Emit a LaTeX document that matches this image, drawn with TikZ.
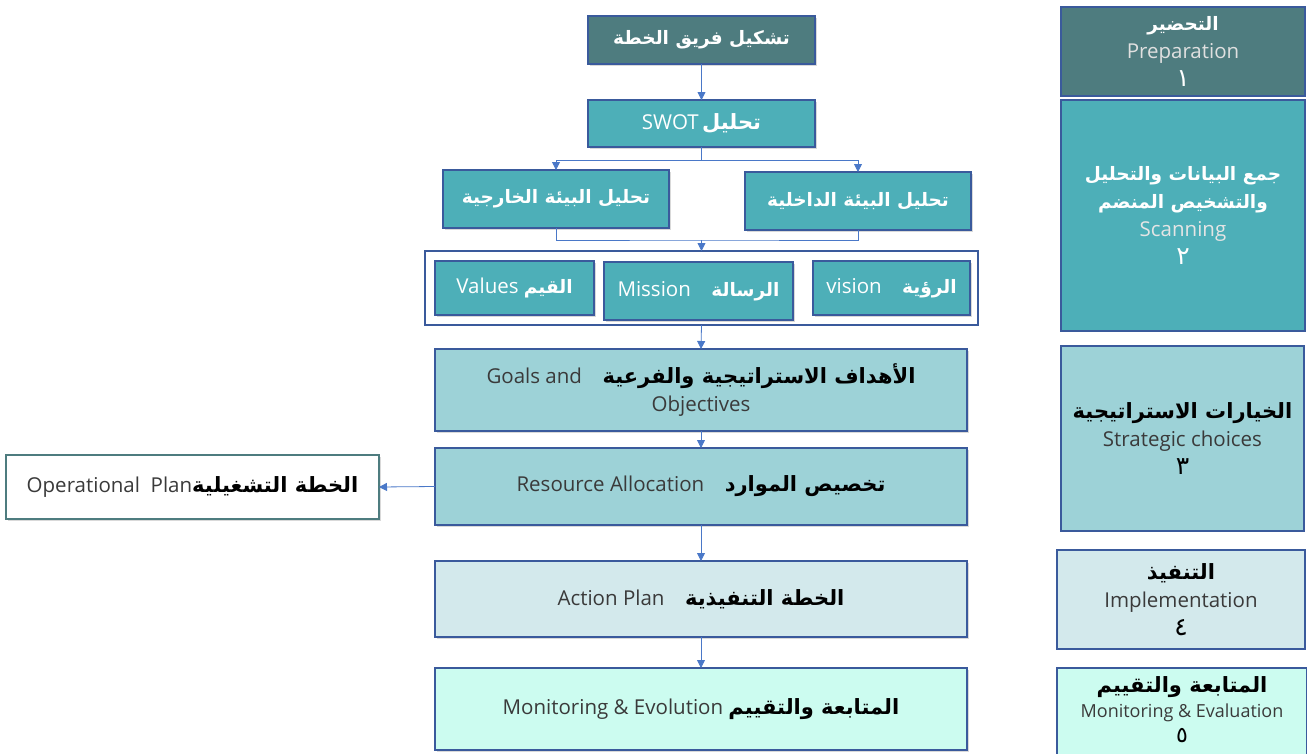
\documentclass[tikz,border=0pt]{standalone}
\usepackage{fontspec}
\setmainfont{Open Sans}
\newfontfamily\arabicfont[Script=Arabic]{DejaVu Sans}
\TeXXeTstate=1
\usetikzlibrary{arrows.meta,shadows}
\newcommand{\artxt}[1]{{\arabicfont\bfseries\fontsize{18.5}{28}\selectfont\beginR #1\endR}}
\newcommand{\arbig}[1]{{\arabicfont\bfseries\fontsize{21}{28}\selectfont\beginR #1\endR}}
\newcommand{\ardigit}[1]{{\arabicfont\fontsize{25}{28}\selectfont #1}}
\definecolor{cDark}{HTML}{4E7C7F}
\definecolor{cTeal}{HTML}{4DAFB8}
\definecolor{cLight}{HTML}{9DD2D7}
\definecolor{cPale}{HTML}{D3E9EC}
\definecolor{cMint}{HTML}{CCFCF0}
\definecolor{cBorder}{HTML}{3A5A9C}
\definecolor{cArrow}{HTML}{4A78C8}
\definecolor{cGrayTxt}{HTML}{3A3A3A}
\tikzset{
  box/.style={draw=cBorder, line width=1.4pt, inner sep=0pt, outer sep=0pt, align=center,
    font=\fontsize{20.5}{28}\selectfont,
    drop shadow={opacity=0.3, shadow xshift=2pt, shadow yshift=-2pt}},
  sidebox/.style={draw=cBorder, line width=1.1pt, inner sep=0pt, outer sep=0pt, align=center,
    font=\fontsize{20.5}{28}\selectfont},
  wtxt/.style={text=white},
  dtxt/.style={text=cGrayTxt},
  conn/.style={draw=cArrow, line width=0.8pt, -{Triangle[width=8pt,length=8pt]}},
  plain/.style={draw=cArrow, line width=0.8pt},
}
\begin{document}
\begin{tikzpicture}[x=1pt,y=-1pt]
\useasboundingbox (0,0) rectangle (1307,753);
% main column
\node[box, fill=cDark, wtxt, minimum width=227pt, minimum height=48pt] (team) at (701.5,40) {\artxt{تشكيل فريق الخطة}};
\node[box, fill=cTeal, wtxt, minimum width=227pt, minimum height=47pt] (swot) at (701.5,123.5) {SWOT\,\arbig{تحليل}};
\node[box, fill=cTeal, wtxt, minimum width=226pt, minimum height=58pt] (ext) at (556,199) {\artxt{تحليل البيئة الخارجية}};
\node[box, fill=cTeal, wtxt, minimum width=226pt, minimum height=58pt] (int) at (858,201) {\artxt{تحليل البيئة الداخلية}};
\node[draw=cBorder, line width=1.2pt, fill=white, minimum width=553pt, minimum height=74pt, inner sep=0pt, outer sep=0pt] (group) at (701.5,288) {};
\node[box, fill=cTeal, wtxt, minimum width=159pt, minimum height=54pt] (values) at (514.5,288) {Values \artxt{القيم}};
\node[box, fill=cTeal, wtxt, minimum width=189pt, minimum height=58pt] (mission) at (698.5,291) {Mission\quad\artxt{الرسالة}};
\node[box, fill=cTeal, wtxt, minimum width=157pt, minimum height=54pt] (vision) at (891.5,288) {vision\quad\artxt{الرؤية}};
\node[box, fill=cLight, dtxt, minimum width=532pt, minimum height=82pt] (goals) at (701,390) {Goals and\quad{\color{black}\arbig{الأهداف الاستراتيجية والفرعية}}\\Objectives};
\node[box, fill=cLight, dtxt, minimum width=532pt, minimum height=77pt] (res) at (701,486.5) {Resource Allocation\quad{\color{black}\arbig{تخصيص الموارد}}};
\node[box, draw=cDark, line width=2.4pt, fill=white, dtxt, minimum width=373pt, minimum height=64pt] (oper) at (192.5,487) {Operational\ \ Plan{\color{black}\arbig{الخطة التشغيلية}}};
\node[box, fill=cPale, dtxt, minimum width=532pt, minimum height=76pt] (action) at (701,599) {Action Plan\quad{\color{black}\arbig{الخطة التنفيذية}}};
\node[box, fill=cMint, dtxt, minimum width=532pt, minimum height=82pt] (monit) at (701,709) {Monitoring \& Evolution\ {\color{black}\arbig{المتابعة والتقييم}}};
% connectors
\draw[conn] (team) -- (swot);
\coordinate (sp) at (701.5,160);
\draw[plain] (swot.south) -- (sp);
\draw[conn] (sp) -| (ext.north);
\draw[conn] (sp) -| (int.north);
\coordinate (jn) at (701.5,240);
\draw[plain] (ext.south) |- (jn) -| (int.south);
\draw[conn] (jn) -- (group.north);
\draw[conn] (group.south) -- (goals.north);
\draw[conn] (goals.south) -- (res.north);
\draw[conn] (res.west) -- (oper.east);
\draw[conn] (res.south) -- (action.north);
\draw[conn] (action.south) -- (monit.north);
% side column
\node[sidebox, fill=cDark, text=white, minimum width=244pt, minimum height=89pt] (s1) at (1183,51.5) {\artxt{التحضير}\\{\color{white!88!black}Preparation}\\\ardigit{١}};
\node[sidebox, fill=cTeal, text=white, minimum width=244pt, minimum height=231pt] (s2) at (1183,215.5) {\artxt{جمع البيانات والتحليل}\\\artxt{والتشخيص المنضم}\\{\color{white!90!black}Scanning}\\\ardigit{٢}};
\node[sidebox, fill=cLight, text=black, minimum width=243pt, minimum height=185pt] (s3) at (1182.5,438.5) {\arbig{الخيارات الاستراتيجية}\\{\color{cGrayTxt}Strategic choices}\\\ardigit{٣}};
\node[sidebox, fill=cPale, text=black, minimum width=248pt, minimum height=99pt] (s4) at (1181,599.5) {\arbig{التنفيذ}\\{\color{cGrayTxt}Implementation}\\\ardigit{٤}};
\node[sidebox, fill=cMint, minimum width=250pt, minimum height=92pt] (s5) at (1182,714) {};
\node[align=center, text=black, inner sep=0pt, font=\fontsize{20.5}{25}\selectfont] (s5t) at (1182,710) {\arbig{المتابعة والتقييم}\\{\color{cGrayTxt}\fontsize{18}{25}\selectfont Monitoring \& Evaluation}\\{\arabicfont\fontsize{22}{25}\selectfont ٥}};
\end{tikzpicture}
\end{document}
